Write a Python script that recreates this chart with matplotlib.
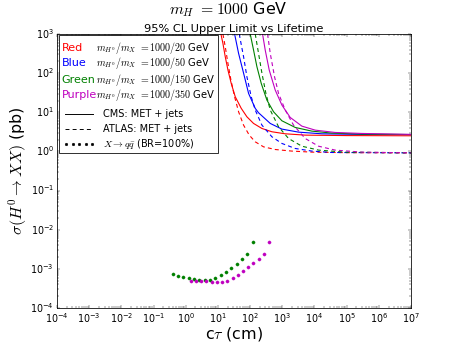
import matplotlib
matplotlib.use("Agg")
import matplotlib.pyplot as plt
from matplotlib.lines import Line2D
from matplotlib.patches import Rectangle

plt.style.use('classic')
plt.rcParams['mathtext.fontset'] = 'cm'
plt.rcParams['font.family'] = ['DejaVu Sans']
plt.rcParams['savefig.facecolor'] = 'white'
plt.rcParams['figure.facecolor'] = 'white'

# ---- data (c tau in cm, sigma in pb) ----
red_cms_x = [12.4, 14.3, 16.9, 20.5, 25.9, 34.6, 53.1, 79.6, 128, 233, 475, 1236, 5164, 1e5, 1e7]
red_cms_y = [1000, 577, 263, 120, 54.7, 24.9, 12.6, 7.67, 5.19, 3.86, 3.18, 2.82, 2.61, 2.54, 2.51]
red_atlas_x = [14.3, 16.9, 20.5, 25.4, 33.0, 43.9, 62.7, 94.0, 144.5, 262, 604, 1986, 8318, 1e5, 1e7]
red_atlas_y = [1000, 474, 177, 66.5, 24.9, 10.3, 4.70, 2.61, 1.76, 1.31, 1.12, 1.02, 0.96, 0.93, 0.92]

blue_cms_x = [33.0, 43.9, 62.7, 89.8, 144.5, 183, 423, 973, 3206, 17000, 296000, 1e7]
blue_cms_y = [1000, 320, 100, 30.3, 12.6, 9.73, 5.19, 3.72, 3.11, 2.82, 2.72, 2.70]
blue_atlas_x = [46.0, 62.7, 79.6, 108.6, 144.5, 233, 475, 973, 2523, 8318, 34750, 1e7]
blue_atlas_y = [1000, 263, 80.9, 24.9, 11.4, 4.70, 2.37, 1.60, 1.19, 1.02, 0.94, 0.92]

green_cms_x = [101, 128, 163, 222, 333, 536, 973, 2523, 8318, 34750, 296000, 1e7]
green_cms_y = [1000, 390, 146, 54.7, 20.5, 10.3, 6.07, 4.10, 3.30, 2.94, 2.77, 2.70]
green_atlas_x = [144.5, 183, 233, 310, 423, 766, 1567, 4064, 13400, 90200, 1e7]
green_atlas_y = [1000, 320, 100, 30.3, 11.4, 4.27, 2.14, 1.36, 1.08, 0.96, 0.92]

purple_cms_x = [244, 295, 393, 604, 973, 1766, 4064, 10550, 44060, 296000, 1e7]
purple_cms_y = [1000, 390, 120, 36.9, 15.3, 7.38, 4.43, 3.50, 3.05, 2.88, 2.72]
purple_atlas_x = [349, 423, 575, 766, 1236, 2239, 5164, 13400, 44060, 296000, 1e7]
purple_atlas_y = [1000, 320, 80.9, 30.3, 11.4, 4.70, 2.14, 1.36, 1.08, 0.96, 0.92]

green_qq_x = [0.391, 0.571, 0.837, 1.23, 1.80, 2.63, 3.85, 5.63, 8.26, 12.1, 17.7, 25.9, 37.9, 55.6, 81.3, 119]
green_qq_y = [7.28e-4, 6.73e-4, 6.34e-4, 5.98e-4, 5.64e-4, 5.31e-4, 5.11e-4, 5.21e-4, 5.86e-4,
              6.86e-4, 8.35e-4, 1.04e-3, 1.34e-3, 1.76e-3, 2.46e-3, 4.79e-3]
purple_qq_x = [1.42, 2.07, 2.96, 4.34, 6.35, 9.31, 13.3, 19.5, 28.5, 40.7, 59.7, 87.4, 125, 183, 268, 393]
purple_qq_y = [5.01e-4, 4.91e-4, 4.82e-4, 4.82e-4, 4.72e-4, 4.54e-4, 4.54e-4, 4.91e-4, 5.86e-4,
               7.13e-4, 8.85e-4, 1.12e-3, 1.42e-3, 1.80e-3, 2.36e-3, 4.88e-3]

color_names = ['Red', 'Blue', 'Green', 'Purple']
colors = ['#ff0000', '#0000ff', '#008000', '#bf00bf']
mass_labels = [r'$m_{H^0}/m_X$ $=1000/20$ GeV', r'$m_{H^0}/m_X$ $=1000/50$ GeV',
               r'$m_{H^0}/m_X$ $=1000/150$ GeV', r'$m_{H^0}/m_X$ $=1000/350$ GeV']
style_labels = ['CMS: MET + jets', 'ATLAS: MET + jets', r'$X\to q\bar{q}$ (BR=100%)']

fig = plt.figure(figsize=(457/57, 343/57), dpi=57)
ax = fig.add_axes([57/457, 35/343, 354/457, 274/343])

lw = 1.4
cms = [(red_cms_x, red_cms_y), (blue_cms_x, blue_cms_y), (green_cms_x, green_cms_y), (purple_cms_x, purple_cms_y)]
atl = [(red_atlas_x, red_atlas_y), (blue_atlas_x, blue_atlas_y), (green_atlas_x, green_atlas_y), (purple_atlas_x, purple_atlas_y)]
for (x, y), c in zip(cms, colors):
    ax.plot(x, y, '-', color=c, lw=lw)
for (x, y), c in zip(atl, colors):
    ax.plot(x, y, '--', color=c, lw=lw, dashes=(5, 4))
ax.plot(green_qq_x, green_qq_y, 'o', color=colors[2], mec=colors[2], ms=4)
ax.plot(purple_qq_x, purple_qq_y, 'o', color=colors[3], mec=colors[3], ms=4)

ax.set_xscale('log')
ax.set_yscale('log')
ax.set_xlim(1e-4, 1e7)
ax.set_ylim(1e-4, 1e3)
ax.set_xticks([10.0**k for k in range(-4, 8)])
ax.set_yticks([10.0**k for k in range(-4, 4)])
ax.tick_params(axis='both', which='major', labelsize=12, length=4, pad=4)
ax.tick_params(axis='both', which='minor', length=2)

ax.set_xlabel(r'c$\tau$ (cm)', fontsize=20, labelpad=0)
ax.set_ylabel(r'$\sigma(H^0\rightarrow XX)$ (pb)', fontsize=20, labelpad=2)
ax.set_title('95% CL Upper Limit vs Lifetime', fontsize=14.4, pad=3)
fig.suptitle(r'$m_H$ $=1000$ GeV', fontsize=20, y=0.998, va='top')

# ---- manual legend box ----
def ax_x(px):
    return (px - 57) / 354.0
def ax_y(py):
    return (308 - py) / 274.0

ax.add_patch(Rectangle((ax_x(58.5), ax_y(153.3)), ax_x(218.3) - ax_x(58.5), ax_y(35) - ax_y(153.3),
                       transform=ax.transAxes, facecolor='white', edgecolor='black', lw=1.0, zorder=5))
row_y = [48.3, 63.3, 80.0, 95.0]
for name, c, lab, py in zip(color_names, colors, mass_labels, row_y):
    ax.text(ax_x(61.5), ax_y(py), name, color=c, fontsize=14, ha='left', va='center',
            transform=ax.transAxes, zorder=6)
    ax.text(ax_x(96), ax_y(py), lab, color='black', fontsize=12.6, ha='left', va='center',
            transform=ax.transAxes, zorder=6)
style_y = [114.3, 129.0, 144.0]
ax.add_line(Line2D([ax_x(65), ax_x(93)], [ax_y(style_y[0])] * 2, color='black', lw=1.2,
                   transform=ax.transAxes, zorder=6))
ax.add_line(Line2D([ax_x(65), ax_x(93)], [ax_y(style_y[1])] * 2, color='black', lw=1.2, ls='--',
                   dashes=(5, 4), transform=ax.transAxes, zorder=6))
ax.add_line(Line2D([ax_x(66), ax_x(72.5), ax_x(79), ax_x(85.5), ax_x(92)], [ax_y(style_y[2])] * 5,
                   color='black', ls='none', marker='o', ms=3.4, transform=ax.transAxes, zorder=6))
for lab, py in zip(style_labels, style_y):
    ax.text(ax_x(103), ax_y(py), lab, color='black', fontsize=12.4, ha='left', va='center',
            transform=ax.transAxes, zorder=6)

fig.savefig('out.png', dpi=57)
